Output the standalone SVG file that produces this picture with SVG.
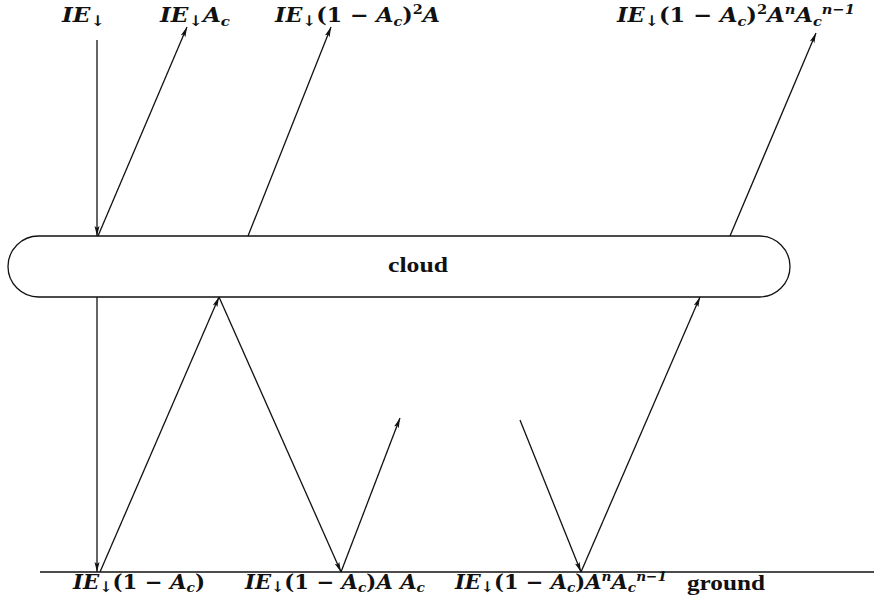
<svg xmlns="http://www.w3.org/2000/svg" width="874" height="595" viewBox="0 0 874 595">
<defs>
<style>
.ln{stroke:#111;stroke-width:1.3;fill:none}
.ar{stroke:#111;stroke-width:1.3;fill:none;marker-end:url(#ah)}
.t{font-family:"DejaVu Serif","Liberation Serif",serif;font-size:20px;fill:#111;font-weight:bold}
.w{font-family:"Liberation Serif","DejaVu Serif",serif;font-size:21px;fill:#111;font-weight:bold}
.v{font-style:italic}
.s{font-size:13px}
.a{font-size:15px}
</style>
<marker id="ah" viewBox="0 0 10 6" refX="10" refY="3" markerWidth="10" markerHeight="6" markerUnits="userSpaceOnUse" orient="auto">
<path d="M0,0.5 L10,3 L0,5.5 L2,3 Z" fill="#111"/>
</marker>
</defs>
<rect width="874" height="595" fill="#fff"/>

<g id="cloud">
<rect x="8" y="236" width="782" height="61" rx="30.5" ry="30.5" fill="#fff" stroke="#111" stroke-width="1.3"/>
<text class="w" x="388" y="272" textLength="60" lengthAdjust="spacingAndGlyphs">cloud</text>
</g>

<g id="ground">
<line class="ln" x1="40" y1="572" x2="874" y2="572"/>
<text class="w" x="687" y="590" textLength="78" lengthAdjust="spacingAndGlyphs">ground</text>
</g>

<g id="connectors">
<line class="ar" x1="97" y1="40" x2="97" y2="236"/>
<line class="ar" x1="98" y1="236" x2="187" y2="27"/>
<line class="ar" x1="248" y1="236" x2="331" y2="27"/>
<line class="ar" x1="730" y1="236" x2="816" y2="33"/>
<line class="ar" x1="97" y1="297" x2="97" y2="572"/>
<line class="ar" x1="100" y1="572" x2="219" y2="297"/>
<line class="ar" x1="219" y1="297" x2="341" y2="572"/>
<line class="ar" x1="341" y1="572" x2="400" y2="418"/>
<line class="ar" x1="520" y1="420" x2="581" y2="572"/>
<line class="ar" x1="581" y1="572" x2="700" y2="297"/>
</g>

<g id="label-incident">
<text class="t" x="62" y="22" textLength="43" lengthAdjust="spacingAndGlyphs"><tspan class="v">IE</tspan><tspan class="a" dy="4">↓</tspan></text>
</g>
<g id="label-reflect1">
<text class="t" x="160" y="22" textLength="70" lengthAdjust="spacingAndGlyphs"><tspan class="v">IE</tspan><tspan class="a" dy="4">↓</tspan><tspan class="v" dy="-4">A</tspan><tspan class="s v" dy="4">c</tspan></text>
</g>
<g id="label-reflect2">
<text class="t" x="275" y="22" textLength="165" lengthAdjust="spacingAndGlyphs"><tspan class="v">IE</tspan><tspan class="a" dy="4">↓</tspan><tspan dy="-4">(1 − </tspan><tspan class="v">A</tspan><tspan class="s v" dy="4">c</tspan><tspan dy="-4">)</tspan><tspan class="s" dy="-8">2</tspan><tspan class="v" dy="8">A</tspan></text>
</g>
<g id="label-reflectn">
<text class="t" x="617" y="22" textLength="238" lengthAdjust="spacingAndGlyphs"><tspan class="v">IE</tspan><tspan class="a" dy="4">↓</tspan><tspan dy="-4">(1 − </tspan><tspan class="v">A</tspan><tspan class="s v" dy="4">c</tspan><tspan dy="-4">)</tspan><tspan class="s" dy="-8">2</tspan><tspan class="v" dy="8">A</tspan><tspan class="s v" dy="-8">n</tspan><tspan class="v" dy="8">A</tspan><tspan class="s v" dy="4">c</tspan><tspan class="s v" dy="-12">n−1</tspan></text>
</g>
<g id="label-ground1">
<text class="t" x="73" y="589" textLength="132" lengthAdjust="spacingAndGlyphs"><tspan class="v">IE</tspan><tspan class="a" dy="3">↓</tspan><tspan dy="-3">(1 − </tspan><tspan class="v">A</tspan><tspan class="s v" dy="3">c</tspan><tspan dy="-3">)</tspan></text>
</g>
<g id="label-ground2">
<text class="t" x="245" y="589" textLength="180" lengthAdjust="spacingAndGlyphs"><tspan class="v">IE</tspan><tspan class="a" dy="3">↓</tspan><tspan dy="-3">(1 − </tspan><tspan class="v">A</tspan><tspan class="s v" dy="3">c</tspan><tspan dy="-3">)</tspan><tspan class="v">A A</tspan><tspan class="s v" dy="3">c</tspan></text>
</g>
<g id="label-groundn">
<text class="t" x="455" y="589" textLength="212" lengthAdjust="spacingAndGlyphs"><tspan class="v">IE</tspan><tspan class="a" dy="3">↓</tspan><tspan dy="-3">(1 − </tspan><tspan class="v">A</tspan><tspan class="s v" dy="3">c</tspan><tspan dy="-3">)</tspan><tspan class="v">A</tspan><tspan class="s v" dy="-8">n</tspan><tspan class="v" dy="8">A</tspan><tspan class="s v" dy="3">c</tspan><tspan class="s v" dy="-11">n−1</tspan></text>
</g>
</svg>
